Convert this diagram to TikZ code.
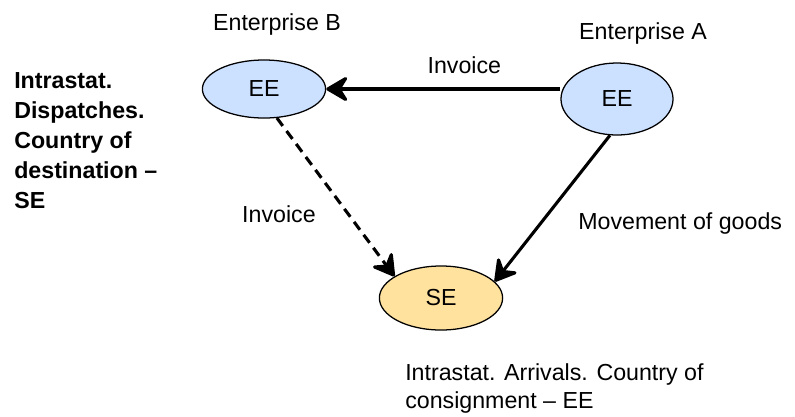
\documentclass[tikz,border=0pt]{standalone}
\usepackage{fontspec}
\setmainfont{Liberation Sans}
\usetikzlibrary{arrows.meta,shapes.geometric}
\definecolor{eeblue}{RGB}{204,224,255}
\definecolor{seorange}{RGB}{255,226,158}

\begin{document}
\begin{tikzpicture}[x=0.025cm,y=-0.025cm,
  font=\fontsize{16.5}{20}\selectfont,
  country/.style={ellipse,draw,line width=0.9pt,inner sep=0pt},
  lbl/.style={inner sep=0pt,anchor=base},
  flow/.style={line width=2.2pt,-{Stealth[length=18pt,width=21pt,inset=6.5pt,round]}}]
\useasboundingbox (0,0) rectangle (795,416);
% enterprises and their countries
\node[country,fill=eeblue,minimum width=3.08cm,minimum height=1.45cm] (eeB) at (264,89) {EE};
\node[country,fill=eeblue,minimum width=2.8cm,minimum height=1.8cm] (eeA) at (617,99) {EE};
\node[country,fill=seorange,minimum width=3.08cm,minimum height=1.6cm] (se) at (441,298) {SE};
\node[lbl] (entB) at (277,30) {Enterprise B};
\node[lbl] (entA) at (643,39) {Enterprise A};
% invoice and goods flows
\draw[flow] (eeA.west |- eeB) -- (eeB.east) node[lbl,pos=0.41,yshift=11pt] (invTop) {Invoice};
\draw[flow,dash pattern=on 7pt off 4.5pt] (eeB.-66) -- (se.155);
\draw[flow] (eeA.-101) -- (se.17);
\node[lbl] (invLeft) at (279,222) {Invoice};
\node[lbl,anchor=base west] (goods) at (578,229) {Movement of goods};
% statistics notes (anchored on the last line)
\node[inner sep=0pt,anchor=base west,align=left,font=\fontsize{16.5}{21.2}\selectfont\bfseries] (dispatch) at (14,208)
  {Intrastat.\\Dispatches.\\Country of\\destination --\\SE};
\node[inner sep=0pt,anchor=base west,align=left,font=\fontsize{16.5}{19.8}\selectfont] (arrival) at (405,408)
  {Intrastat. Arrivals. Country of\\consignment -- EE};
\end{tikzpicture}
\end{document}
